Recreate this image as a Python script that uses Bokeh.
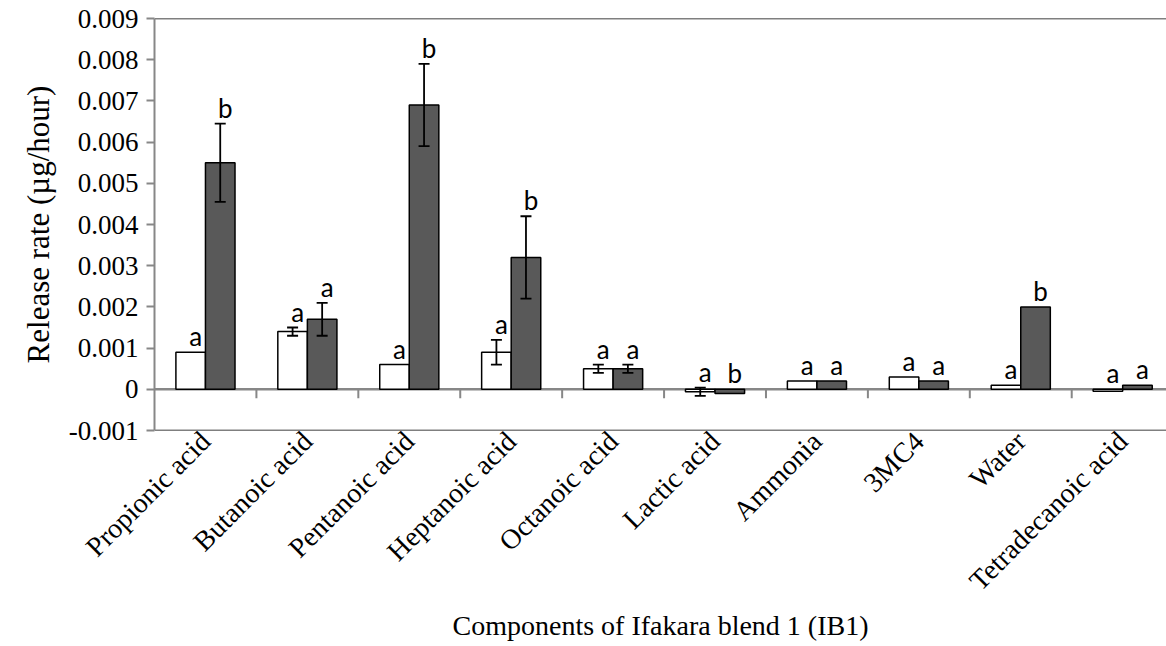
import math
from bokeh.plotting import figure
from bokeh.models import ColumnDataSource, FixedTicker, NumeralTickFormatter, Span, Whisker, TeeHead, Range1d
from bokeh.core.properties import value
from bokeh.embed import file_html
from bokeh.resources import INLINE

categories = ["Propionic acid", "Butanoic acid", "Pentanoic acid", "Heptanoic acid",
              "Octanoic acid", "Lactic acid", "Ammonia", "3MC4", "Water", "Tetradecanoic acid"]
white_vals = [0.0009, 0.0014, 0.0006, 0.0009, 0.0005, -0.00006, 0.0002, 0.0003, 0.0001, -0.00005]
dark_vals = [0.0055, 0.0017, 0.0069, 0.0032, 0.0005, -0.0001, 0.0002, 0.0002, 0.0020, 0.0001]
white_err = [0.0, 0.0001, 0.0, 0.0003, 0.0001, 0.0001, 0.0, 0.0, 0.0, 0.0]
dark_err = [0.00095, 0.0004, 0.001, 0.001, 0.0001, 0.0, 0.0, 0.0, 0.0, 0.0]
white_letters = ["a", "a", "a", "a", "a", "a", "a", "a", "a", "a"]
dark_letters = ["b", "a", "b", "b", "a", "b", "a", "a", "b", "a"]
y_ticks = [-0.001, 0.0, 0.001, 0.002, 0.003, 0.004, 0.005, 0.006, 0.007, 0.008, 0.009]

SERIF = "Liberation Serif"
AXIS_GRAY = "#878787"
OFF = 0.145
BW = 0.29

p = figure(width=1166, height=646, x_range=Range1d(-0.5, 9.43), y_range=Range1d(-0.001, 0.009),
           output_backend="svg", toolbar_location=None,
           min_border_left=154, min_border_top=18, min_border_bottom=216, min_border_right=0)
p.outline_line_color = None
p.xgrid.visible = False
p.ygrid.visible = False
p.background_fill_color = "white"
p.border_fill_color = "white"

idx = list(range(len(categories)))

# frame lines and zero line
p.add_layout(Span(location=0.009, dimension="width", line_color="black", line_width=1.5, level="underlay"))
p.add_layout(Span(location=-0.001, dimension="width", line_color="black", line_width=1.5, level="underlay"))
p.add_layout(Span(location=0, dimension="width", line_color=AXIS_GRAY, line_width=2.5, level="underlay"))

# category separator ticks hanging from the zero line
bounds = [i + 0.5 for i in idx[:-1]]
p.segment(x0=bounds, y0=[0] * len(bounds), x1=bounds, y1=[-0.00022] * len(bounds),
          line_color=AXIS_GRAY, line_width=2)

for vals, errs, letters, sign, fill in [(white_vals, white_err, white_letters, -1, "white"),
                                        (dark_vals, dark_err, dark_letters, 1, "#595959")]:
    xs = [i + sign * OFF for i in idx]
    src = ColumnDataSource(dict(x=xs, top=vals))
    p.vbar(x="x", top="top", width=BW, source=src, fill_color=fill, line_color="black", line_width=1.5)
    ex = [x for x, e in zip(xs, errs) if e > 0]
    eu = [v + e for v, e in zip(vals, errs) if e > 0]
    el = [v - e for v, e in zip(vals, errs) if e > 0]
    esrc = ColumnDataSource(dict(base=ex, upper=eu, lower=el))
    p.add_layout(Whisker(source=esrc, base="base", upper="upper", lower="lower",
                         line_color="black", line_width=1.8, level="annotation",
                         upper_head=TeeHead(size=11, line_width=1.8, line_color="black"),
                         lower_head=TeeHead(size=11, line_width=1.8, line_color="black")))
    ly = [max(v + e, 0) for v, e in zip(vals, errs)]
    lsrc = ColumnDataSource(dict(x=xs, y=ly, t=letters))
    p.text(x="x", y="y", text="t", source=lsrc, text_font=value("Lato"), text_font_size="26px",
           text_align="center", text_baseline="alphabetic", x_offset=5, y_offset=-16, text_color="black")

# y axis
p.yaxis.ticker = FixedTicker(ticks=y_ticks)
p.yaxis.formatter = NumeralTickFormatter(format="0.[000]")
p.yaxis.axis_line_color = AXIS_GRAY
p.yaxis.axis_line_width = 2
p.yaxis.major_tick_line_color = AXIS_GRAY
p.yaxis.major_tick_line_width = 2
p.yaxis.major_tick_out = 8
p.yaxis.major_tick_in = 0
p.yaxis.minor_tick_line_color = None
p.yaxis.major_label_text_font = SERIF
p.yaxis.major_label_text_font_size = "27px"
p.yaxis.major_label_text_color = "black"
p.yaxis.major_label_standoff = 8
p.yaxis.axis_label = "Release rate (µg/hour)"
p.yaxis.axis_label_text_font = SERIF
p.yaxis.axis_label_text_font_size = "31px"
p.yaxis.axis_label_text_font_style = "normal"
p.yaxis.axis_label_text_color = "black"
p.yaxis.axis_label_standoff = 10

# x axis
p.xaxis.ticker = FixedTicker(ticks=idx)
p.xaxis.major_label_overrides = {i: c for i, c in zip(idx, categories)}
p.xaxis.axis_line_color = None
p.xaxis.major_tick_line_color = None
p.xaxis.minor_tick_line_color = None
p.xaxis.major_label_orientation = math.pi / 4
p.xaxis.major_label_text_font = SERIF
p.xaxis.major_label_text_font_size = "28px"
p.xaxis.major_label_text_color = "black"
p.xaxis.major_label_standoff = 0
p.xaxis.axis_label = "Components of Ifakara blend 1 (IB1)"
p.xaxis.axis_label_text_font = SERIF
p.xaxis.axis_label_text_font_size = "28px"
p.xaxis.axis_label_text_font_style = "normal"
p.xaxis.axis_label_text_color = "black"
p.xaxis.axis_label_standoff = 0

open("out.html", "w").write(file_html(p, INLINE))
